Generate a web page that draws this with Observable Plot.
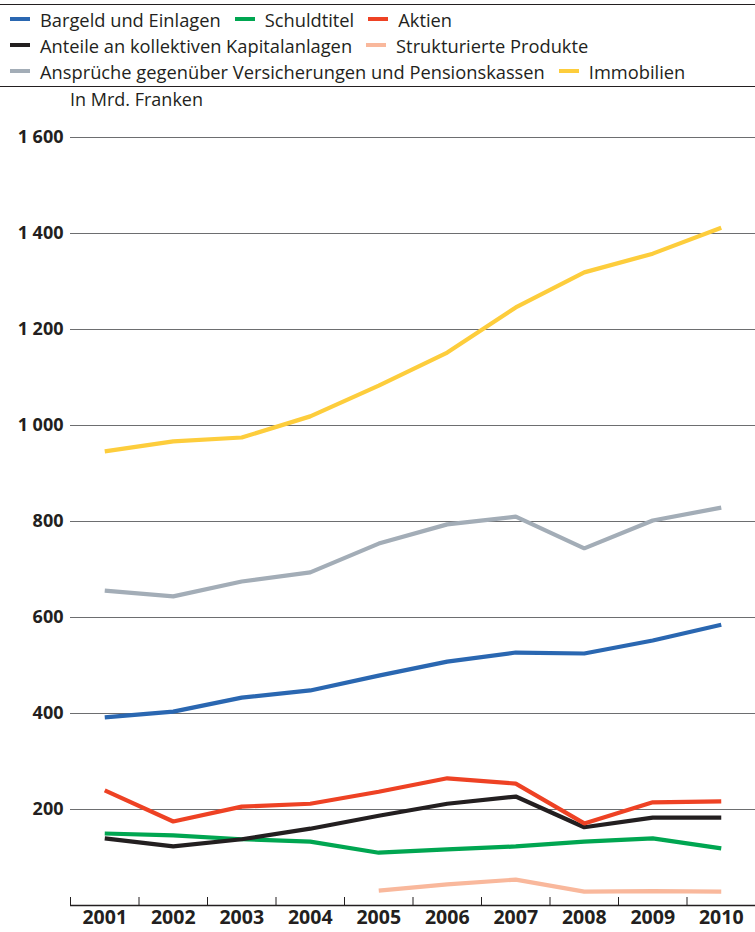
<!DOCTYPE html>
<html>
<head>
<meta charset="utf-8">
<script src="https://cdn.jsdelivr.net/npm/d3@7"></script>
<script src="https://cdn.jsdelivr.net/npm/@observablehq/plot@0.6"></script>
<style>
  html, body { margin: 0; padding: 0; background: #fff; }
  body { width: 755px; height: 932px; position: relative; overflow: hidden; font-family: "Open Sans", Roboto, sans-serif; color: #231f20; }
  .rule { position: absolute; left: 0; width: 755px; height: 0; border-top: 1.5px solid #231f20; }
  .row { position: absolute; left: 10px; display: flex; align-items: center; height: 24px; font-size: 18.3px; white-space: nowrap; }
  .sw { width: 20px; height: 4px; margin-right: 10px; flex: none; }
  .item { display: flex; align-items: center; margin-right: 14px; }
  #unit { position: absolute; left: 70px; top: 87px; font-size: 18px; }
  #chart { position: absolute; left: 0; top: 88px; }
</style>
</head>
<body>
<div class="rule" style="top:4px"></div>
<div id="legend"></div>
<div class="rule" style="top:86px"></div>
<div id="unit">In Mrd. Franken</div>
<div id="chart"></div>
<script>
const years = [2001, 2002, 2003, 2004, 2005, 2006, 2007, 2008, 2009, 2010];
const seriesNames = [
  "Bargeld und Einlagen", "Schuldtitel", "Aktien",
  "Anteile an kollektiven Kapitalanlagen", "Strukturierte Produkte",
  "Ansprüche gegenüber Versicherungen und Pensionskassen", "Immobilien"
];
const seriesColors = ["#2a67b1", "#00a651", "#ee4224", "#231f20", "#f9b89c", "#a3adb7", "#fdcd3c"];
const legendRows = [[0, 1, 2], [3, 4], [5, 6]];

const bargeld      = [392, 404, 433, 448, 479, 508, 527, 525, 552, 585];
const schuldtitel  = [150, 146, 138, 133, 110, 117, 123, 133, 140, 119];
const aktien       = [240, 175, 206, 212, 237, 265, 254, 171, 215, 217];
const anteile      = [140, 123, 138, 160, 187, 212, 227, 163, 183, 183];
const strukturiert = [null, null, null, null, 31, 44, 54, 29, 30, 29];
const ansprueche   = [656, 644, 675, 694, 754, 794, 810, 744, 802, 829];
const immobilien   = [946, 967, 975, 1019, 1083, 1152, 1246, 1319, 1358, 1412];

const yTicks = [200, 400, 600, 800, 1000, 1200, 1400, 1600];
const xBoundaries = [2000.5, 2001.5, 2002.5, 2003.5, 2004.5, 2005.5, 2006.5, 2007.5, 2008.5, 2009.5];

const valuesBySeries = [bargeld, schuldtitel, aktien, anteile, strukturiert, ansprueche, immobilien];
const drawOrder = [4, 1, 3, 2, 0, 5, 6];

// legend
const legend = document.getElementById("legend");
legendRows.forEach((row, r) => {
  const div = document.createElement("div");
  div.className = "row";
  div.style.top = (7 + r * 26) + "px";
  row.forEach(i => {
    const it = document.createElement("div");
    it.className = "item";
    const sw = document.createElement("div");
    sw.className = "sw";
    sw.style.background = seriesColors[i];
    const tx = document.createElement("span");
    tx.textContent = seriesNames[i];
    it.appendChild(sw); it.appendChild(tx);
    div.appendChild(it);
  });
  legend.appendChild(div);
});

const data = [];
drawOrder.forEach(s => {
  years.forEach((yr, j) => {
    const v = valuesBySeries[s][j];
    if (v != null) data.push({series: seriesNames[s], year: yr, value: v});
  });
});

const fmt = d => d3.format(",")(d).replace(/,/g, " ");

const chart = Plot.plot({
  width: 755,
  height: 844,
  marginLeft: 70,
  marginRight: 0,
  marginTop: 49,
  marginBottom: 27,
  style: {fontFamily: "'Open Sans', Roboto, sans-serif", color: "#231f20", background: "transparent"},
  x: {domain: [2000.5, 2010.5], axis: null},
  y: {domain: [0, 1600], axis: null},
  color: {domain: seriesNames, range: seriesColors},
  marks: [
    Plot.gridY(yTicks, {stroke: "#6d6e70", strokeOpacity: 1, strokeWidth: 1}),
    Plot.axisY(yTicks, {label: null, tickSize: 0, tickPadding: 7, tickFormat: fmt, fontSize: 18, fontWeight: "bold", fill: "#231f20"}),
    Plot.axisX(xBoundaries, {label: null, anchor: "bottom", tickSize: -8, tickFormat: () => "", stroke: "#231f20"}),
    Plot.axisX(years, {label: null, anchor: "bottom", tickSize: 0, tickPadding: 5, tickFormat: d => String(d), fontSize: 19.5, fontWeight: "bold", fill: "#231f20"}),
    Plot.ruleY([0], {stroke: "#231f20", strokeWidth: 1.5}),
    Plot.line(data, {x: "year", y: "value", z: "series", stroke: "series", strokeWidth: 4.2, strokeLinejoin: "miter", strokeLinecap: "butt"})
  ]
});
document.getElementById("chart").appendChild(chart);
</script>
</body>
</html>
